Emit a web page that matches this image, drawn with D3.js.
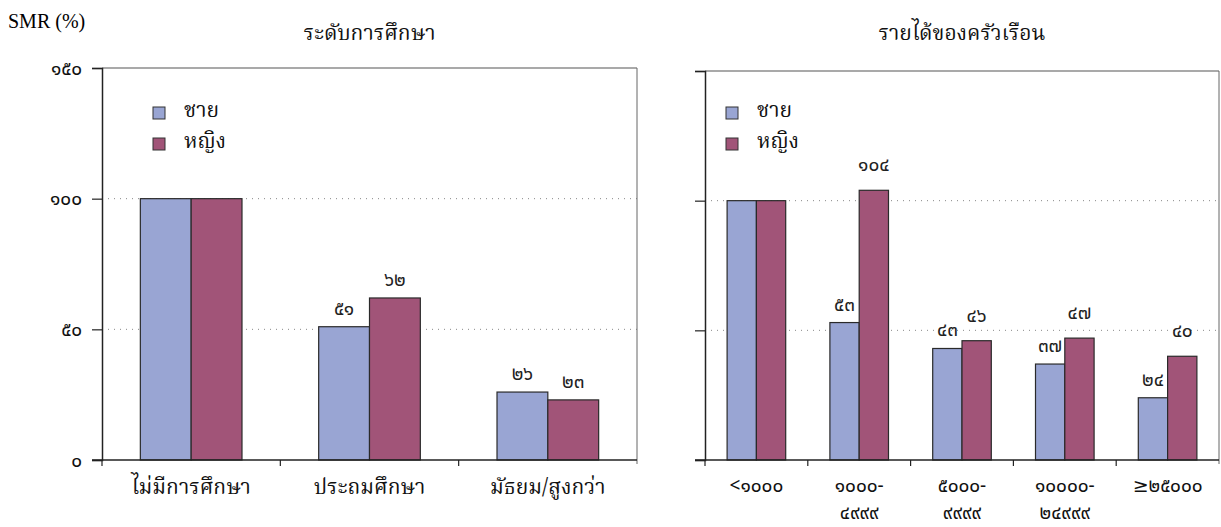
<!DOCTYPE html>
<html>
<head>
<meta charset="utf-8">
<script src="https://cdn.jsdelivr.net/npm/d3@7/dist/d3.min.js"></script>
<style>
  body { margin: 0; background: #fff; }
  svg { display: block; }
  .thai { font-family: "Noto Serif Thai", "Noto Sans Thai", "Loma", "Garuda", "Liberation Serif", serif; }
  .num { font-family: "Noto Sans Thai", "Loma", "Garuda", "DejaVu Sans", sans-serif; }
</style>
</head>
<body>
<svg width="1221" height="527"></svg>
<script>
// data
const seriesNames = ['ชาย', 'หญิง']
const colors = ['#99a5d3', '#a15478']
const yTicks = [0, 50, 100, 150]

const eduTitle = 'ระดับการศึกษา'
const eduCats = ['ไม่มีการศึกษา', 'ประถมศึกษา', 'มัธยม/สูงกว่า']
const eduMale = [100, 51, 26]
const eduFemale = [100, 62, 23]

const incTitle = 'รายได้ของครัวเรือน'
const incCats = [['<๑๐๐๐'], ['๑๐๐๐-', '๔๙๙๙'], ['๕๐๐๐-', '๙๙๙๙'], ['๑๐๐๐๐-', '๒๔๙๙๙'], ['≥๒๕๐๐๐']]
const incMale = [100, 53, 43, 37, 24]
const incFemale = [100, 104, 46, 47, 40]

const thaiDigits = '๐๑๒๓๔๕๖๗๘๙'
const toThai = n => String(n).replace(/[0-9]/g, d => thaiDigits[+d])

const svg = d3.select('svg')

svg.append('text')
  .attr('x', 8).attr('y', 28)
  .style('font-family', '"Liberation Serif", "Times New Roman", serif')
  .style('font-size', '20px')
  .text('SMR (%)')

function drawPanel({x0, x1, yTop, yBottom, title, cats, male, female, legendX, showTickLabels, twoLine}) {
  const g = svg.append('g')
  const y = d3.scaleLinear().domain([0, 150]).range([yBottom, yTop])
  const x = d3.scaleBand().domain(d3.range(cats.length)).range([x0, x1])
  const inner = d3.scaleBand().domain([0, 1]).range([0, x.bandwidth() * 0.57])
  const off = (x.bandwidth() - x.bandwidth() * 0.57) / 2

  // gridlines
  g.selectAll('.grid').data([50, 100]).enter().append('line')
    .attr('x1', x0).attr('x2', x1)
    .attr('y1', d => y(d)).attr('y2', d => y(d))
    .attr('stroke', '#888').attr('stroke-width', 1).attr('stroke-dasharray', '1,5')

  // top & right border
  g.append('line').attr('x1', x0).attr('x2', x1).attr('y1', y(150)).attr('y2', y(150))
    .attr('stroke', '#555').attr('stroke-width', 1.2)
  g.append('line').attr('x1', x1).attr('x2', x1).attr('y1', y(150)).attr('y2', y(0) + 4)
    .attr('stroke', '#666').attr('stroke-width', 1)

  // bars
  const rows = cats.map((c, i) => [male[i], female[i]])
  const grp = g.selectAll('.grp').data(rows).enter().append('g')
    .attr('transform', (d, i) => `translate(${x(i) + off},0)`)
  grp.selectAll('rect').data(d => d).enter().append('rect')
    .attr('x', (d, j) => inner(j))
    .attr('y', d => y(d))
    .attr('width', inner.bandwidth())
    .attr('height', d => y(0) - y(d))
    .attr('fill', (d, j) => colors[j])
    .attr('stroke', '#2a2a2a').attr('stroke-width', 1.2)

  // value labels (not for the reference group)
  grp.filter((d, i) => i > 0).selectAll('.val').data(d => d).enter().append('text')
    .attr('class', 'num')
    .attr('x', (d, j) => inner(j) + inner.bandwidth() / 2)
    .attr('y', (d, j) => y(d) - (j === 1 && twoLine ? 19 : 12))
    .attr('text-anchor', 'middle')
    .style('font-size', '19px').attr('fill', '#222')
    .text(d => toThai(d))

  // y axis
  const yAxis = g.append('g').attr('transform', `translate(${x0},0)`)
    .call(d3.axisLeft(y).tickValues(yTicks).tickSize(10).tickFormat(showTickLabels ? d => toThai(d) : ''))
  yAxis.select('.domain').attr('stroke', '#222').attr('stroke-width', 1.5)
  yAxis.selectAll('.tick line').attr('stroke', '#222').attr('stroke-width', 1.2)
  yAxis.selectAll('.tick text').attr('class', 'num').attr('x', -20)
    .style('font-size', '19px').attr('fill', '#111')

  // x axis
  const xb = g.append('g').attr('transform', `translate(0,${yBottom})`)
  xb.append('line').attr('x1', x0 - 10).attr('x2', x1).attr('y1', 0).attr('y2', 0)
    .attr('stroke', '#222').attr('stroke-width', 1.5)
  xb.selectAll('.xt').data(d3.range(cats.length)).enter().append('line')
    .attr('x1', i => x(i)).attr('x2', i => x(i)).attr('y1', 0).attr('y2', 6)
    .attr('stroke', '#222').attr('stroke-width', 1.2)

  if (twoLine) {
    const lab = xb.selectAll('.xl').data(cats).enter().append('text')
      .attr('class', 'num')
      .attr('text-anchor', 'middle')
      .style('font-size', '19px').attr('fill', '#111')
    lab.selectAll('tspan').data((d, i) => d.map(s => ({s, i}))).enter().append('tspan')
      .attr('x', d => x(d.i) + x.bandwidth() / 2)
      .attr('y', (d, k) => 32 + k * 27)
      .text(d => d.s)
  } else {
    xb.selectAll('.xl').data(cats).enter().append('text')
      .attr('class', 'thai')
      .attr('x', (d, i) => x(i) + x.bandwidth() / 2)
      .attr('y', 34)
      .attr('text-anchor', 'middle')
      .style('font-size', '21px').attr('fill', '#111')
      .text(d => d)
  }

  // title
  svg.append('text').attr('class', 'thai')
    .attr('x', (x0 + x1) / 2).attr('y', 40)
    .attr('text-anchor', 'middle')
    .style('font-size', '21px').attr('fill', '#111')
    .text(title)

  // legend
  const lg = svg.append('g').attr('transform', `translate(${legendX},107)`)
  const li = lg.selectAll('g').data(seriesNames).enter().append('g')
    .attr('transform', (d, i) => `translate(0,${i * 31})`)
  li.append('rect').attr('width', 12).attr('height', 12)
    .attr('fill', (d, i) => colors[i]).attr('stroke', '#333').attr('stroke-width', 1)
  li.append('text').attr('class', 'thai').attr('x', 31).attr('y', 10)
    .style('font-size', '21px').attr('fill', '#111').text(d => d)
}

drawPanel({x0: 102, x1: 637, yTop: 68, yBottom: 460, title: eduTitle, cats: eduCats,
  male: eduMale, female: eduFemale, legendX: 153, showTickLabels: true, twoLine: false})
drawPanel({x0: 705, x1: 1219, yTop: 71, yBottom: 460, title: incTitle, cats: incCats,
  male: incMale, female: incFemale, legendX: 726, showTickLabels: false, twoLine: true})
</script>
</body>
</html>
